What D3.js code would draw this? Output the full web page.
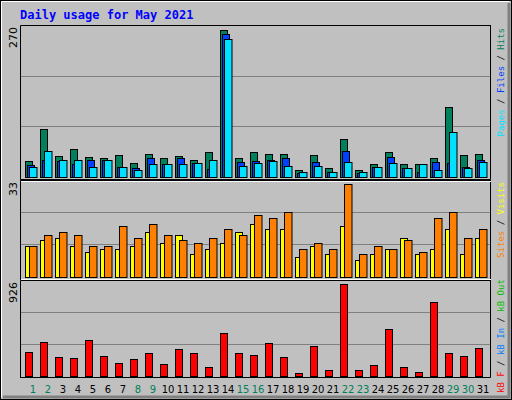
<!DOCTYPE html>
<html><head><meta charset="utf-8">
<script src="https://cdn.jsdelivr.net/npm/d3@7"></script>
<style>body{margin:0;background:#fff}svg{display:block}</style>
</head><body><svg id="c" width="512" height="400"></svg>
<script>
const days = d3.range(1, 32);
const weekend = [1,2,8,9,15,16,22,23,29,30];
const hits  = [30,87,39,52,37,34,41,26,43,35,39,32,45,270,34,45,43,43,12,41,17,70,12,23,45,23,23,34,129,41,43];
const files = [22,32,30,23,32,32,19,17,34,24,34,26,15,261,28,30,32,34,8,28,10,48,8,19,37,17,10,28,26,19,32];
const pages = [19,48,32,32,19,32,19,12,24,23,23,26,32,253,21,26,30,21,10,21,10,28,10,19,26,17,23,12,83,17,28];
const visits= [11,13,14,11,9,10,10,11,16,12,15,8,10,12,16,19,17,17,7,11,8,18,6,8,10,14,8,10,17,8,14];
const sites = [11,15,16,15,11,11,18,14,19,15,13,12,14,17,15,22,21,23,10,12,10,33,8,11,10,13,9,21,23,14,17];
const kbytes= [237,338,186,176,358,196,125,166,226,115,267,226,85,429,226,206,328,186,24,297,54,926,54,105,470,85,34,744,226,196,277];
const maxLabels = ["270","33","926"];

const svg = d3.select("#c");
const g = svg.append("g");
g.append("rect").attr("x",0).attr("y",0).attr("width",512).attr("height",400).attr("fill","#C0C0C0");
// bevel
g.append("rect").attr("x",0.5).attr("y",0.5).attr("width",511).attr("height",399).attr("fill","none").attr("stroke","#000");
g.append("path").attr("d","M1.5,397V1.5H509").attr("stroke","#fff").attr("fill","none");
g.append("path").attr("d","M509,3V397H3").attr("stroke","#808080").attr("stroke-width",3).attr("fill","none");

g.append("text").attr("x",20).attr("y",19).attr("fill","#0000FF")
 .style("font","bold 12px 'DejaVu Sans Mono', monospace").text("Daily usage for May 2021");

const x = d3.scaleBand().domain(days).range([25,490]).paddingInner(0).paddingOuter(0);
const step = 15;
const xs = d => 25 + (d-1)*step;

const panels = [
  {top:25, base:177, maxTop:29.5, max:270, bot:180},
  {top:180, base:276.7, maxTop:184.3, max:33, bot:280},
  {top:280, base:375.7, maxTop:284.3, max:926, bot:378}
];
panels.forEach((p,i)=>{
  p.y = d3.scaleLinear().domain([0,p.max]).range([p.base,p.maxTop]);
  // gridlines (thirds)
  const h = p.base - p.top;
  [1,2].forEach(k=>{
    const yy = Math.round(p.base - h*k/3)+0.5;
    g.append("line").attr("x1",21).attr("x2",490).attr("y1",yy).attr("y2",yy).attr("stroke","#808080");
  });
  g.append("path").attr("d",`M20.5,${p.bot}V${p.top+0.5}H491`).attr("stroke","#000").attr("fill","none");
  g.append("path").attr("d",`M490.5,${p.top+1}V${p.bot-0.5}H21`).attr("stroke","#000").attr("fill","none");
  g.append("text").attr("transform",`translate(17,${p.top+2}) rotate(-90)`).attr("text-anchor","end")
   .style("font","11px 'DejaVu Sans', sans-serif").attr("fill","#000").text(maxLabels[i]);
});
g.append("line").attr("x1",21).attr("x2",491).attr("y1",181.5).attr("y2",181.5).attr("stroke","#fff");
g.append("line").attr("x1",21).attr("x2",491).attr("y1",279.5).attr("y2",279.5).attr("stroke","#fff");

function bars(data, p, off, w, color){
  g.append("g").selectAll("rect").data(data).join("rect")
   .attr("x",(d,i)=>xs(i+1)+off+0.5).attr("width",w)
   .attr("y",d=>Math.round(p.y(d))+0.5).attr("height",d=>Math.max(0,Math.round(p.base)-Math.round(p.y(d))))
   .attr("fill",color).attr("stroke","#000");
}
bars(hits, panels[0], 0, 7, "#00805C");
bars(files, panels[0], 2, 7, "#0040FF");
bars(pages, panels[0], 4, 7.5, "#00E0FF");
bars(visits, panels[1], 0, 7, "#FFFF00");
bars(sites, panels[1], 4, 7.5, "#FF8000");
bars(kbytes, panels[2], 0, 7, "#FF0000");

g.append("g").selectAll("text").data(days).join("text")
 .attr("x",d=>xs(d)+8).attr("y",393).attr("text-anchor","middle")
 .attr("fill",d=>weekend.includes(d)?"#00805C":"#000")
 .style("font","10px 'DejaVu Sans', sans-serif").text(d=>d);

function sideLabel(yAnchor, anchor, parts){
  const t = g.append("text").attr("transform",`translate(504,${yAnchor}) rotate(-90)`).attr("text-anchor",anchor)
    .style("font","9px 'DejaVu Sans Mono', monospace");
  parts.forEach(([s,c])=>t.append("tspan").attr("fill",c).text(s));
}
sideLabel(28,"end",[["Pages","#00E0FF"],[" / ","#000"],["Files","#0040FF"],[" / ","#000"],["Hits","#00805C"]]);
sideLabel(182,"end",[["Sites","#FF8000"],[" / ","#000"],["Visits","#FFFF00"]]);
sideLabel(393,"start",[["kB F","#FF0000"],[" / ","#000"],["kB In","#0080FF"],[" / ","#000"],["kB Out","#00C000"]]);
</script></body></html>
